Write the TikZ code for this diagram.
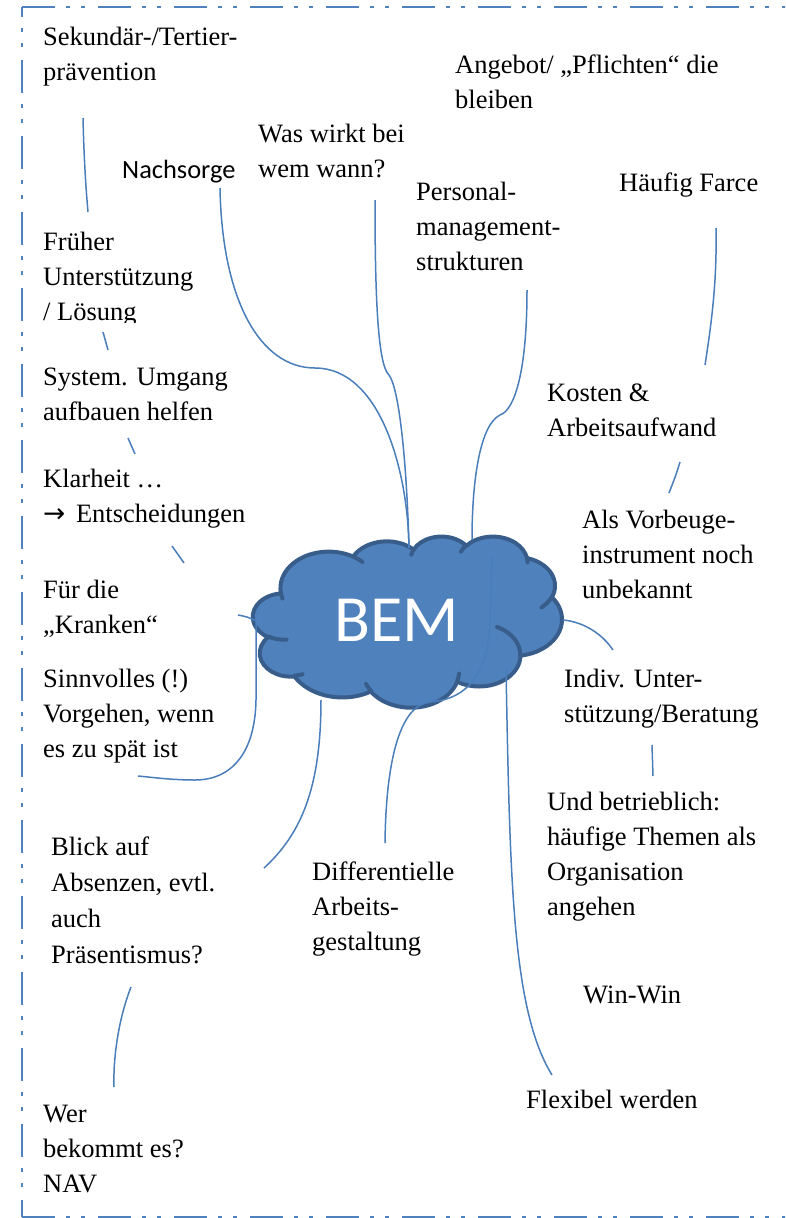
\documentclass[tikz,border=0pt]{standalone}
\usepackage{fontspec}
\setmainfont{Liberation Serif}
\newfontfamily\calfont{Carlito}
\newfontfamily\dvfont{DejaVu Sans}
\definecolor{office}{HTML}{4F81BD}
\definecolor{cloudedge}{HTML}{385D8A}
\definecolor{linkc}{HTML}{4A7EBB}
\newcommand\tstr{\rule{0pt}{24pt}}
% elliptical arc in DrawingML style: wR hR stAng swAng (visual angles, degrees)
\newcommand\carc[4]{arc[x radius=#1, y radius=#2,
  start angle={atan2((#1)*sin(#3),(#2)*cos(#3))},
  delta angle={mod(atan2((#1)*sin((#3)+(#4)),(#2)*cos((#3)+(#4)))-atan2((#1)*sin(#3),(#2)*cos(#3))+720,360)}]}
\tikzset{
  lbl/.style={anchor=north west, inner sep=0pt, align=left, font=\fontsize{26.5}{35}\selectfont},
  link/.style={draw=linkc, line width=1.5pt},
  frame/.style={draw=office, line width=2.6pt, dash pattern=on 33pt off 11pt on 4pt off 11pt on 4pt off 13pt},
  cloudline/.style={draw=cloudedge, line width=4pt, line join=round}
}
\begin{document}
\begin{tikzpicture}[x=1pt,y=-1pt]
\useasboundingbox (0,0) rectangle (785,1218);
\clip (0,0) rectangle (785,1218);
% frame
\draw[frame] (22,7) -- (800,7);
\draw[frame, dash phase=23pt] (22,7) -- (22,1217);
\draw[frame] (22,1217) -- (800,1217);

% cloud (Office cloud geometry, 432 x 432 units)
\begin{scope}[xshift=253pt, yshift=-536pt, x=0.715pt, y=-0.396pt]
\path[cloudline, fill=office] (39.00,143.70)
  \carc{67.53}{91.90}{-190.4875}{123.7805}
  \carc{53.33}{72.67}{-144.1024}{89.9452}
  \carc{43.65}{59.45}{-145.8079}{99.7230}
  \carc{48.57}{65.95}{-130.9861}{117.2417}
  \carc{53.33}{72.73}{-78.7089}{109.0269}
  \carc{67.75}{92.20}{-46.2673}{130.2690}
  \carc{57.85}{78.67}{0.6250}{114.0333}
  \carc{67.52}{92.15}{22.4516}{115.1726}
  \carc{77.20}{105.43}{66.2426}{75.7110}
  \carc{43.60}{59.18}{-274.9421}{146.7356}
  \carc{43.45}{59.45}{-246.8285}{152.5189}
  -- cycle;
\draw[cloudline, line cap=round]
  (46.93,261.77) \carc{43.45}{59.45}{86.742}{26.4295}
  (69.28,348.99) \carc{43.60}{59.18}{73.6105}{11.4475}
  (164.78,390.90) \carc{67.52}{92.15}{137.6242}{14.0811}
  (288.27,347.51) \carc{67.52}{92.15}{6.4533}{15.9984}
  (341.29,229.54) \carc{57.85}{78.67}{-70.2924}{70.9174}
  (417.98,153.54) \carc{53.33}{72.73}{30.3180}{27.7515}
  (383.24,54.26) \carc{48.57}{65.95}{-13.7443}{14.8589}
  (290.78,39.52) \carc{48.57}{65.95}{-149.1815}{18.1954}
  (221.41,47.20) \carc{43.65}{59.45}{-163.4943}{17.6864}
  (140.00,51.92) \carc{67.53}{91.90}{-66.7070}{12.3194}
  (41.27,157.89) \carc{67.53}{91.90}{157.6544}{11.8582};
\coordinate (bem) at (216,216);
\end{scope}
\node[text=white, inner sep=0pt, font=\calfont\fontsize{66}{66}\selectfont] (bemlabel) at (397,620) {BEM};

% labels
\node[lbl] (sek) at (43,21) {\tstr Sekundär-/Tertier-\\prävention};
\node[lbl] (ang) at (455,49) {\tstr Angebot/ „Pflichten“ die\\bleiben};
\node[lbl] (was) at (258,118) {\tstr Was wirkt bei\\wem wann?};
\node[lbl, font=\calfont\fontsize{26.4}{35}\selectfont] (nach) at (122,154) {\tstr Nachsorge};
\node[lbl] (pers) at (416,176) {\tstr Personal-\\management-\\strukturen};
\node[lbl] (haeu) at (619,167) {\tstr Häufig Farce};
\begin{scope}
\clip (30,200) rectangle (300,322);
\node[lbl] (frue) at (43,226) {\tstr Früher\\Unterstützung\\/ Lösung};
\end{scope}
\node[lbl] (sys) at (43,361) {\tstr System. Umgang\\aufbauen helfen};
\node[lbl] (klar) at (43,463) {\tstr Klarheit …\\{\dvfont →}\hspace{4pt} Entscheidungen};
\node[lbl] (fuer) at (43,574) {\tstr Für die\\„Kranken“};
\node[lbl] (sinn) at (43,663) {\tstr Sinnvolles (!)\\Vorgehen, wenn\\es zu spät ist};
\node[lbl, font=\fontsize{26.5}{36}\selectfont] (blick) at (51,831) {\tstr Blick auf\\Absenzen, evtl.\\auch\\Präsentismus?};
\node[lbl] (wer) at (43,1098) {\tstr Wer\\bekommt es?\\NAV};
\node[lbl] (diff) at (312,856) {\tstr Differentielle\\Arbeits-\\gestaltung};
\node[lbl] (kost) at (547,377) {\tstr Kosten \&\\Arbeitsaufwand};
\node[lbl] (als) at (582,504) {\tstr Als Vorbeuge-\\instrument noch\\unbekannt};
\node[lbl] (indiv) at (564,663) {\tstr Indiv. Unter-\\stützung/Beratung};
\node[lbl] (und) at (547,786) {\tstr Und betrieblich:\\häufige Themen als\\Organisation\\angehen};
\node[lbl] (win) at (583,979) {\tstr Win-Win};
\node[lbl] (flex) at (526,1084) {\tstr Flexibel werden};

% connector end points
\coordinate (a1) at (83,118);   \coordinate (a2) at (88,212);
\coordinate (b1) at (220,188);  \coordinate (b2) at (315,368);  \coordinate (b3) at (409,548);
\coordinate (c1) at (375,200);  \coordinate (c2) at (389,375);
\coordinate (d1) at (527,290);  \coordinate (d2) at (500,415);  \coordinate (d3) at (472,540);
\coordinate (e1) at (716,228);  \coordinate (e2) at (705,365);
\coordinate (f1) at (680,462);  \coordinate (f2) at (669,493);
\coordinate (g1) at (563,620);  \coordinate (g2) at (613,650);
\coordinate (h1) at (652,745);  \coordinate (h2) at (653,776);
\coordinate (i1) at (385,843);  \coordinate (i2) at (430,702);  \coordinate (i3) at (490,620);  \coordinate (i4) at (492,557);
\coordinate (j1) at (506,668);  \coordinate (j2) at (552,1075);
\coordinate (k1) at (238,615);  \coordinate (k2) at (256,621);  \coordinate (k3) at (256,700);  \coordinate (k4) at (195,780);  \coordinate (k5) at (138,776);
\coordinate (l1) at (321,700);  \coordinate (l2) at (264,868);
\coordinate (m1) at (131,987);  \coordinate (m2) at (114,1087);
\coordinate (n1) at (103,332);  \coordinate (n2) at (108,350);
\coordinate (o1) at (128,438);  \coordinate (o2) at (135,454);
\coordinate (p1) at (172,546);  \coordinate (p2) at (184,563);

% connectors
\draw[link] (a1) .. controls (84,160) and (86,190) .. (a2);
\draw[link] (b1) .. controls (222,300) and (260,368) .. (b2) .. controls (380,368) and (408,470) .. (b3);
\draw[link] (c1) .. controls (375,300) and (378,365) .. (c2) .. controls (400,390) and (407,470) .. (b3);
\draw[link] (d1) .. controls (527,370) and (515,410) .. (d2) .. controls (480,425) and (472,480) .. (d3);
\draw[link] (e1) .. controls (717,280) and (712,320) .. (e2);
\draw[link] (f1) .. controls (676,475) .. (f2);
\draw[link] (g1) .. controls (585,622) and (603,635) .. (g2);
\draw[link] (h1) .. controls (653,760) .. (h2);
\draw[link] (i1) .. controls (386,760) and (400,705) .. (i2) .. controls (470,699) and (489,670) .. (i3) .. controls (491,590) .. (i4);
\draw[link] (j1) .. controls (510,880) and (512,1010) .. (j2);
\draw[link] (k1) .. controls (248,617) .. (k2);
\draw[link] (k2) -- (k3) .. controls (255,755) and (230,780) .. (k4) .. controls (170,780) and (150,777) .. (k5);
\draw[link] (l1) .. controls (321,790) and (300,835) .. (l2);
\draw[link] (m1) .. controls (118,1020) and (113,1060) .. (m2);
\draw[link] (n1) -- (n2);
\draw[link] (o1) -- (o2);
\draw[link] (p1) -- (p2);
\end{tikzpicture}
\end{document}
